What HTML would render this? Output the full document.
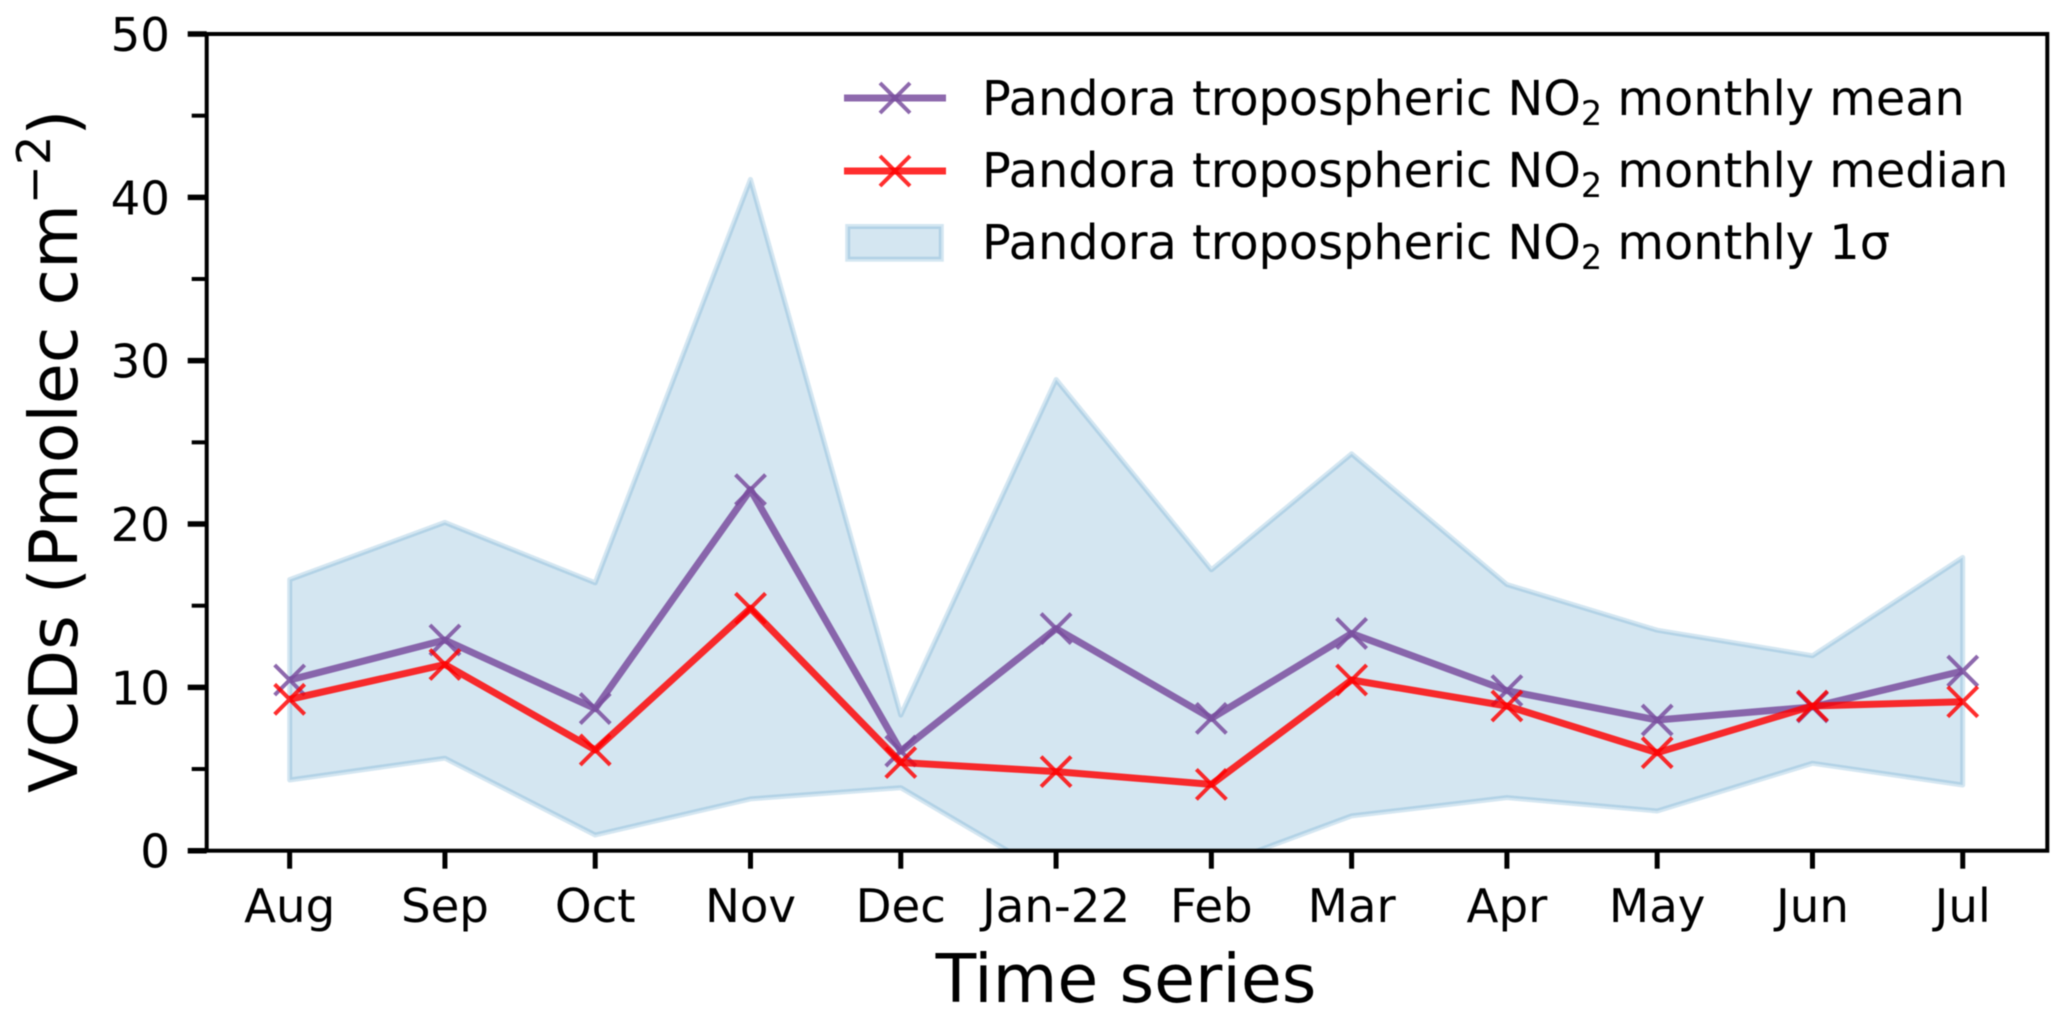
<!DOCTYPE html>
<html lang="en">
<head>
<meta charset="utf-8">
<title>Pandora tropospheric NO2 monthly time series</title>
<style>
html,body{margin:0;padding:0;background:#fff;}
body{width:2067px;height:1021px;overflow:hidden;}
svg{display:block;font-family:"DejaVu Sans","Liberation Sans",sans-serif;fill:#000;filter:blur(0.5px);}
</style>
</head>
<body>
<svg id="chart" xmlns="http://www.w3.org/2000/svg" width="2067" height="1021" viewBox="0 0 2067 1021">
  <defs><clipPath id="plot-clip"><rect id="plot-clip-rect" x="206.7" y="34" width="1840.6" height="816.7"></rect></clipPath></defs>
  <g id="band-layer" clip-path="url(#plot-clip)"></g>
  <g id="line-layer"></g>
  <rect x="206.7" y="34" width="1840.6" height="816.7" fill="none" stroke="#000" stroke-width="4"></rect>
  <g id="tick-layer"></g>
  <text x="1126" y="1002" font-size="66.5" text-anchor="middle">Time series</text>
  <text transform="translate(77 793) rotate(-90)" font-size="66.5">VCDs (Pmolec cm<tspan dy="-27" font-size="46.5">−2</tspan><tspan dy="27">)</tspan></text>
  <g>
    <g>
      <line x1="844" x2="946" y1="98" y2="98" stroke="#7a4f9f" stroke-opacity=".85" stroke-width="7"></line>
      <path d="M880 83L910 113M880 113L910 83" stroke="#7a4f9f" stroke-opacity=".85" stroke-width="4" fill="none"></path>
      <text x="982" y="115" font-size="47.8">Pandora tropospheric NO<tspan dy="10" font-size="33.5">2</tspan><tspan dy="-10"> monthly mean</tspan></text>
    </g>
    <g>
      <line x1="844" x2="946" y1="171" y2="171" stroke="#ff0000" stroke-opacity=".82" stroke-width="7"></line>
      <path d="M880 156L910 186M880 186L910 156" stroke="#ff0000" stroke-opacity=".82" stroke-width="4" fill="none"></path>
      <text x="982" y="187" font-size="47.8">Pandora tropospheric NO<tspan dy="10" font-size="33.5">2</tspan><tspan dy="-10"> monthly median</tspan></text>
    </g>
    <g>
      <rect x="847.7" y="226.5" width="93.6" height="32.7" fill="rgba(40,130,185,.2)" stroke="rgba(40,130,185,.2)" stroke-width="5"></rect>
      <text x="982" y="259" font-size="47.8">Pandora tropospheric NO<tspan dy="10" font-size="33.5">2</tspan><tspan dy="-10"> monthly 1σ</tspan></text>
    </g>
  </g>
</svg>
<script>
const monthLabels = ['Aug','Sep','Oct','Nov','Dec','Jan-22','Feb','Mar','Apr','May','Jun','Jul'];
const monthDates = ['2021-08-01','2021-09-01','2021-10-01','2021-11-01','2021-12-01','2022-01-01','2022-02-01','2022-03-01','2022-04-01','2022-05-01','2022-06-01','2022-07-01'];
const meanValues = [10.45,12.9,8.7,22.1,6.1,13.6,8.1,13.3,9.8,8.0,8.8,11.0];
const medianValues = [9.27,11.4,6.17,14.84,5.4,4.84,4.06,10.45,8.86,6.0,8.86,9.12];
const sigmaUpper = [16.6,20.1,16.4,41.1,8.3,28.85,17.2,24.3,16.3,13.5,11.94,17.95];
const sigmaLower = [4.33,5.66,0.96,3.17,3.86,-1.75,-1.05,2.13,3.25,2.43,5.35,4.02];
const yMajorTicks = [0,10,20,30,40,50];
const yMinorTicks = [5,15,25,35,45];

const SVGNS = 'http://www.w3.org/2000/svg';
const plot = {left:206.7,right:2047.3,top:34,bottom:850.7};
const xRange = [206.0,2046.4];
const yDomain = [0,50];
const t0 = Date.parse(monthDates[0]);
const tN = Date.parse(monthDates[monthDates.length-1]);
const pad = (tN-t0)*0.05;
function xScale(dateStr){
  return xRange[0] + (Date.parse(dateStr)-(t0-pad))/((tN-t0)+2*pad)*(xRange[1]-xRange[0]);
}
function yScale(v){
  return plot.bottom - (v-yDomain[0])/(yDomain[1]-yDomain[0])*(plot.bottom-plot.top);
}
function make(tag,parent){
  const el = document.createElementNS(SVGNS,tag);
  parent.appendChild(el);
  return el;
}
const bandLayer = document.getElementById('band-layer');
const lineLayer = document.getElementById('line-layer');
const tickLayer = document.getElementById('tick-layer');

// shaded band
const upperPts = monthDates.map((d,i)=>xScale(d).toFixed(1)+','+yScale(sigmaUpper[i]).toFixed(1));
const lowerPts = monthDates.map((d,i)=>xScale(d).toFixed(1)+','+yScale(sigmaLower[i]).toFixed(1)).reverse();
const band = make('polygon',bandLayer);


band.setAttribute('points', upperPts.concat(lowerPts).join(' '));
band.setAttribute('fill', 'rgba(40,130,185,.2)');
band.setAttribute('stroke', 'rgba(40,130,185,.2)');
band.setAttribute('stroke-width', '5');
band.setAttribute('stroke-linejoin', 'round');

// series
function drawSeries(values,color,opacity,name){
  const line = make('polyline',lineLayer);
  
  
  line.setAttribute('points', monthDates.map((d,i)=>xScale(d).toFixed(1)+','+yScale(values[i]).toFixed(1)).join(' '));
  line.setAttribute('fill', 'none');
  line.setAttribute('stroke', color);
  line.setAttribute('stroke-opacity', opacity);
  line.setAttribute('stroke-width', '7');
  line.setAttribute('stroke-linejoin', 'round');
  values.forEach((v,i)=>{
    const cx = xScale(monthDates[i]), cy = yScale(v), r = 15;
    const m = make('path',lineLayer);
    
    
    m.setAttribute('d', `M${cx-r} ${cy-r}L${cx+r} ${cy+r}M${cx-r} ${cy+r}L${cx+r} ${cy-r}`);
    m.setAttribute('fill', 'none');
    m.setAttribute('stroke', color);
    m.setAttribute('stroke-opacity', opacity);
    m.setAttribute('stroke-width', '4');
  });
}
drawSeries(meanValues,'#7a4f9f','.85','mean');
drawSeries(medianValues,'#ff0000','.82','median');

// x ticks
monthDates.forEach((d,i)=>{
  const x = xScale(d);
  const t = make('line',tickLayer);
  
  
  t.setAttribute('x1', x); t.setAttribute('x2', x);
  t.setAttribute('y1', plot.bottom); t.setAttribute('y2', plot.bottom+18);
  t.setAttribute('stroke', '#000'); t.setAttribute('stroke-width', '5');
  const l = make('text',tickLayer);
  
  
  l.setAttribute('x', x); l.setAttribute('y', 922);
  l.setAttribute('font-size', '46.7');
  l.setAttribute('text-anchor', 'middle');
  l.textContent = monthLabels[i];
});
// y ticks
yMajorTicks.forEach(v=>{
  const y = yScale(v);
  const t = make('line',tickLayer);
  
  
  t.setAttribute('x1', plot.left-19); t.setAttribute('x2', plot.left);
  t.setAttribute('y1', y); t.setAttribute('y2', y);
  t.setAttribute('stroke', '#000'); t.setAttribute('stroke-width', '5.5');
  const l = make('text',tickLayer);
  
  
  l.setAttribute('x', 170); l.setAttribute('y', y+17);
  l.setAttribute('font-size', '46.7');
  l.setAttribute('text-anchor', 'end');
  l.textContent = String(v);
});
yMinorTicks.forEach(v=>{
  const y = yScale(v);
  const t = make('line',tickLayer);
  
  
  t.setAttribute('x1', plot.left-15); t.setAttribute('x2', plot.left);
  t.setAttribute('y1', y); t.setAttribute('y2', y);
  t.setAttribute('stroke', '#000'); t.setAttribute('stroke-width', '4');
});
</script>
</body>
</html>
